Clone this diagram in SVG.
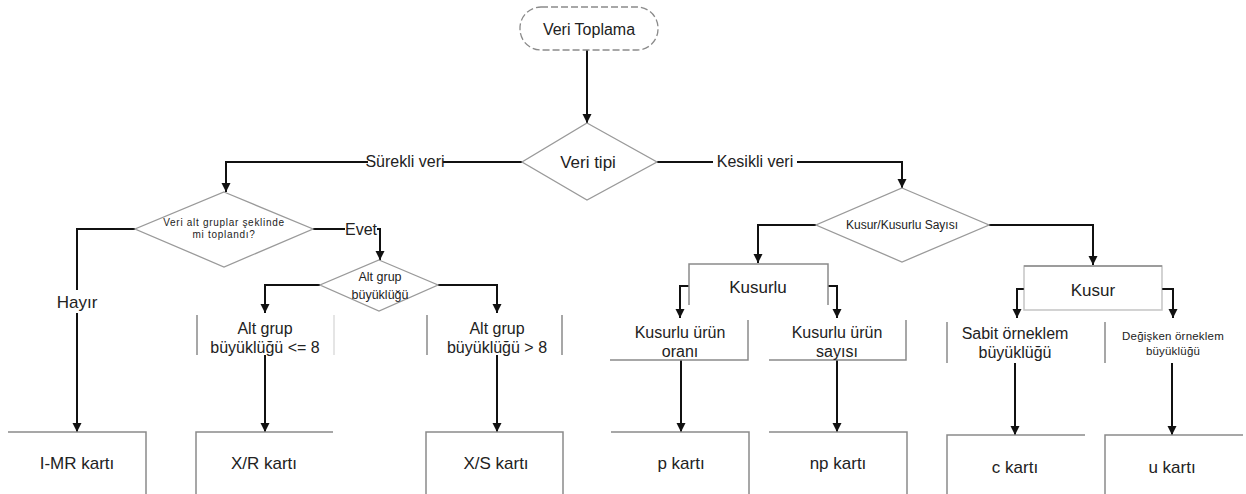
<svg xmlns="http://www.w3.org/2000/svg" width="1246" height="494" viewBox="0 0 1246 494">
<style>
.bg{fill:#fff}
.shape{fill:none;stroke:#9a9a9a;stroke-width:1.3}
.box{fill:none;stroke:#8a8a8a;stroke-width:1.5}
.term{fill:#fff;stroke:#8a8a8a;stroke-width:1.3;stroke-dasharray:7 3}
.con{fill:none;stroke:#111;stroke-width:2}
text{font-family:"Liberation Sans",Arial,sans-serif;fill:#222;text-anchor:middle}
.t17{font-size:17px}
.t16{font-size:16px}
.t12{font-size:12px}
.t13{font-size:12.5px}
.sm{font-size:10px;letter-spacing:0.7px}
.sm2{font-size:11.5px;letter-spacing:0.2px}
</style>
<defs>
<marker id="ah" viewBox="0 0 10 10" refX="10" refY="5" markerWidth="9" markerHeight="10" markerUnits="userSpaceOnUse" orient="auto">
<path d="M0,0 L10,5 L0,10 z" fill="#111"/>
</marker>
</defs>
<rect class="bg" x="0" y="0" width="1246" height="494"/>

<g id="connectors">
<path class="con" d="M587,50 V123" marker-end="url(#ah)"/>
<path class="con" d="M522,162 H443"/>
<path class="con" d="M368,162 H226 V192" marker-end="url(#ah)"/>
<path class="con" d="M657,162 H713"/>
<path class="con" d="M797,162 H902 V188" marker-end="url(#ah)"/>
<path class="con" d="M135,229 H77 V290"/>
<path class="con" d="M77,313 V432" marker-end="url(#ah)"/>
<path class="con" d="M313,229 H345"/>
<path class="con" d="M377,229 H380 V260" marker-end="url(#ah)"/>
<path class="con" d="M320,285 H265 V313" marker-end="url(#ah)"/>
<path class="con" d="M438,285 H497 V313" marker-end="url(#ah)"/>
<path class="con" d="M265,355 V432" marker-end="url(#ah)"/>
<path class="con" d="M497,355 V432" marker-end="url(#ah)"/>
<path class="con" d="M816,225 H758 V263" marker-end="url(#ah)"/>
<path class="con" d="M989,225 H1093 V265" marker-end="url(#ah)"/>
<path class="con" d="M689,286 H680 V318" marker-end="url(#ah)"/>
<path class="con" d="M828,286 H837 V318" marker-end="url(#ah)"/>
<path class="con" d="M1024,289 H1017 V318" marker-end="url(#ah)"/>
<path class="con" d="M1162,289 H1173 V318" marker-end="url(#ah)"/>
<path class="con" d="M681,360 V432" marker-end="url(#ah)"/>
<path class="con" d="M837,360 V432" marker-end="url(#ah)"/>
<path class="con" d="M1015,363 V435" marker-end="url(#ah)"/>
<path class="con" d="M1172,363 V435" marker-end="url(#ah)"/>
<text class="t16" x="405" y="167">Sürekli veri</text>
<text class="t16" x="755" y="167">Kesikli veri</text>
<text class="t17" x="77" y="308">Hayır</text>
<text class="t16" x="361" y="235">Evet</text>
</g>

<g id="veri-toplama">
<rect class="term" x="520" y="7" width="138" height="43" rx="21"/>
<text class="t16" x="589" y="35">Veri Toplama</text>
</g>
<g id="veri-tipi">
<polygon class="shape" points="587,123 657,162 587,200 522,162"/>
<text class="t17" x="588" y="168">Veri tipi</text>
</g>
<g id="alt-gruplar-soru">
<polygon class="shape" points="224,192 313,229 224,267 135,229"/>
<text class="sm" x="224" y="226">Veri alt gruplar şeklinde</text>
<text class="sm" x="224" y="238">mi toplandı?</text>
</g>
<g id="alt-grup-buyuklugu">
<polygon class="shape" points="379,260 438,285 379,311 320,285"/>
<text class="t13" x="380" y="281">Alt grup</text>
<text class="t13" x="380" y="299">büyüklüğü</text>
</g>
<g id="kusur-sayisi">
<polygon class="shape" points="902,188 989,225 902,262 816,225"/>
<text class="t12" x="902" y="229">Kusur/Kusurlu Sayısı</text>
</g>
<g id="alt-grup-le8">
<path class="box" d="M197,315 V355"/>
<path class="box" d="M334,315 V355" stroke-opacity="0.3"/>
<text class="t16" x="265" y="334">Alt grup</text>
<text class="t16" x="265" y="353">büyüklüğü &lt;= 8</text>
</g>
<g id="alt-grup-gt8">
<path class="box" d="M427,315 V355"/>
<path class="box" d="M562,315 V355"/>
<text class="t16" x="497" y="334">Alt grup</text>
<text class="t16" x="497" y="353">büyüklüğü &gt; 8</text>
</g>
<g id="kusurlu">
<path class="box" d="M689,305 V264 H828 V305"/>
<text class="t17" x="758" y="293">Kusurlu</text>
</g>
<g id="kusurlu-oran">
<path class="box" d="M610,360 H748 V320"/>
<text class="t16" x="680" y="338">Kusurlu ürün</text>
<text class="t16" x="680" y="357">oranı</text>
</g>
<g id="kusurlu-sayi">
<path class="box" d="M769,360 H906 V320"/>
<text class="t16" x="837" y="338">Kusurlu ürün</text>
<text class="t16" x="837" y="357">sayısı</text>
</g>
<g id="kusur">
<rect class="box" x="1024" y="266" width="138" height="44" stroke-opacity="0.5"/>
<path class="box" d="M1024,266 H1162"/>
<text class="t17" x="1093" y="296">Kusur</text>
</g>
<g id="sabit-orneklem">
<path class="box" d="M947,322 V363"/>
<text class="t16" x="1015" y="339">Sabit örneklem</text>
<text class="t16" x="1015" y="358">büyüklüğü</text>
</g>
<g id="degisken-orneklem">
<path class="box" d="M1105,322 V363"/>
<text class="sm2" x="1173" y="340">Değişken örneklem</text>
<text class="sm2" x="1173" y="355">büyüklüğü</text>
</g>
<g id="imr">
<path class="box" d="M8,432 H146 V494"/>
<text class="t17" x="77" y="469">I-MR kartı</text>
</g>
<g id="xr">
<path class="box" d="M196,494 V432 H333"/>
<text class="t17" x="264" y="469">X/R kartı</text>
</g>
<g id="xs">
<path class="box" d="M426,494 V432 H563 V494"/>
<text class="t17" x="496" y="469">X/S kartı</text>
</g>
<g id="p">
<path class="box" d="M611,432 H749 V494"/>
<text class="t17" x="681" y="469">p kartı</text>
</g>
<g id="np">
<path class="box" d="M769,432 H907 V494"/>
<text class="t17" x="838" y="469">np kartı</text>
</g>
<g id="c">
<path class="box" d="M947,494 V435 H1085"/>
<text class="t17" x="1015" y="473">c kartı</text>
</g>
<g id="u">
<path class="box" d="M1105,494 V435 H1243"/>
<text class="t17" x="1172" y="473">u kartı</text>
</g>
</svg>
